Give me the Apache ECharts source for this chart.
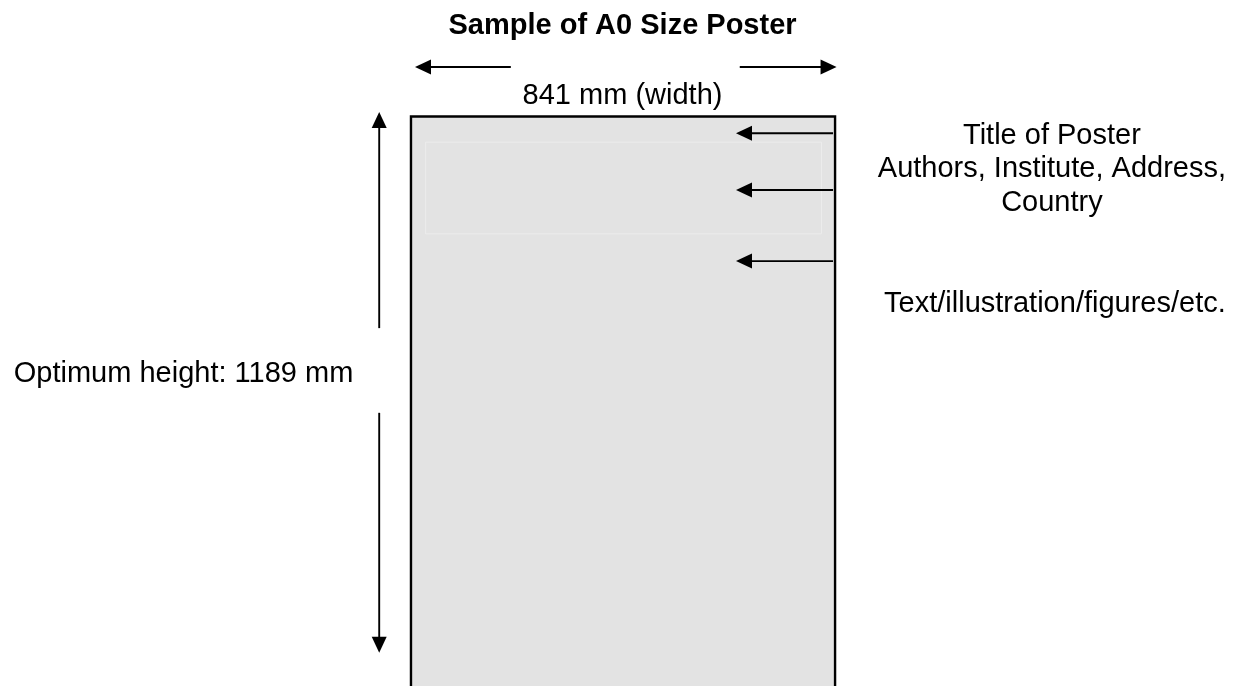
<!DOCTYPE html>
<html>
<head>
<meta charset="utf-8">
<script src="https://cdn.jsdelivr.net/npm/echarts@6/dist/echarts.min.js"></script>
<style>
  html, body { margin: 0; padding: 0; background: #ffffff; }
  #chart { width: 1241px; height: 686px; }
</style>
</head>
<body>
<div id="chart"></div>
<script>
// ---- Data (all in poster millimetres) ----
const posterSize = [841, 1189];                 // width, height
const headerBox = [29, 51, 814, 233];           // x1, y1, x2, y2 of faint header frame
// arrows: [fromX, fromY, tipX, tipY]
const widthArrows = [[198, -98, 8, -98], [652, -98, 844, -98]];
const heightArrows = [[-63, 420, -63, -9], [-63, 588, -63, 1064]];
const pointerArrows = [[837, 33.5, 644.5, 33.5], [837, 146, 644.5, 146], [837, 287, 644.5, 287]];
const labelTexts = ['Sample of A0 Size Poster', '841 mm (width)', 'Optimum height: 1189 mm',
  'Title of Poster', 'Authors, Institute, Address,', 'Country', 'Text/illustration/figures/etc.'];
const labelX = [419.5, 419.5, -451, 1271, 1271, 1271, 1277];
const labelY = [-179.4, -40.5, 511, 38.8, 104.9, 171.1, 372.1];
const labelBold = [true, false, false, false, false, false, false];

const xExtent = [-815, 1646];
const yExtent = [-231, 1130];

const FONT = '"Liberation Sans", Arial, Helvetica, sans-serif';

function rectItem(fill, stroke, lw) {
  return function (params, api) {
    const p1 = api.coord([api.value(0), api.value(1)]);
    const p2 = api.coord([api.value(2), api.value(3)]);
    return {
      type: 'rect',
      shape: { x: p1[0], y: p1[1], width: p2[0] - p1[0], height: p2[1] - p1[1] },
      style: { fill: fill, stroke: stroke, lineWidth: lw }
    };
  };
}

function arrowItem(params, api) {
  const a = api.coord([api.value(0), api.value(1)]);
  const b = api.coord([api.value(2), api.value(3)]);
  const dx = b[0] - a[0], dy = b[1] - a[1];
  const len = Math.sqrt(dx * dx + dy * dy);
  const ux = dx / len, uy = dy / len;
  const hl = 16, hw = 7.5;
  const base = [b[0] - ux * hl, b[1] - uy * hl];
  const nx = -uy, ny = ux;
  return {
    type: 'group',
    children: [
      { type: 'line', shape: { x1: a[0], y1: a[1], x2: base[0] + ux * 2, y2: base[1] + uy * 2 },
        style: { stroke: '#000', lineWidth: 1.9 } },
      { type: 'polygon', shape: { points: [b, [base[0] + nx * hw, base[1] + ny * hw], [base[0] - nx * hw, base[1] - ny * hw]] },
        style: { fill: '#000' } }
    ]
  };
}

const labelData = labelTexts.map((t, i) => [labelX[i], labelY[i], t, labelBold[i] ? 1 : 0]);

const chart = echarts.init(document.getElementById('chart'), null, { renderer: 'canvas' });
chart.setOption({
  backgroundColor: '#ffffff',
  animation: false,
  grid: { left: 0, right: 0, top: 0, bottom: 0 },
  xAxis: { type: 'value', min: xExtent[0], max: xExtent[1], show: false },
  yAxis: { type: 'value', min: yExtent[0], max: yExtent[1], inverse: true, show: false },
  series: [
    { type: 'custom', renderItem: rectItem('#e3e3e3', '#000000', 2.4), data: [[0, 0, posterSize[0], posterSize[1]]], clip: false, z: 1 },
    { type: 'custom', renderItem: rectItem('none', '#ececec', 1), data: [headerBox], z: 2 },
    { type: 'custom', renderItem: arrowItem, data: widthArrows.concat(heightArrows, pointerArrows), z: 3 },
    {
      type: 'custom', z: 4,
      renderItem: function (params, api) {
        const p = api.coord([api.value(0), api.value(1)]);
        const d = labelData[params.dataIndex];
        return {
          type: 'text', x: p[0], y: p[1],
          style: {
            text: d[2], fill: '#000',
            font: (d[3] ? 'bold ' : '') + '29px ' + FONT,
            align: 'center', verticalAlign: 'middle'
          }
        };
      },
      data: labelData
    }
  ]
});
</script>
</body>
</html>
